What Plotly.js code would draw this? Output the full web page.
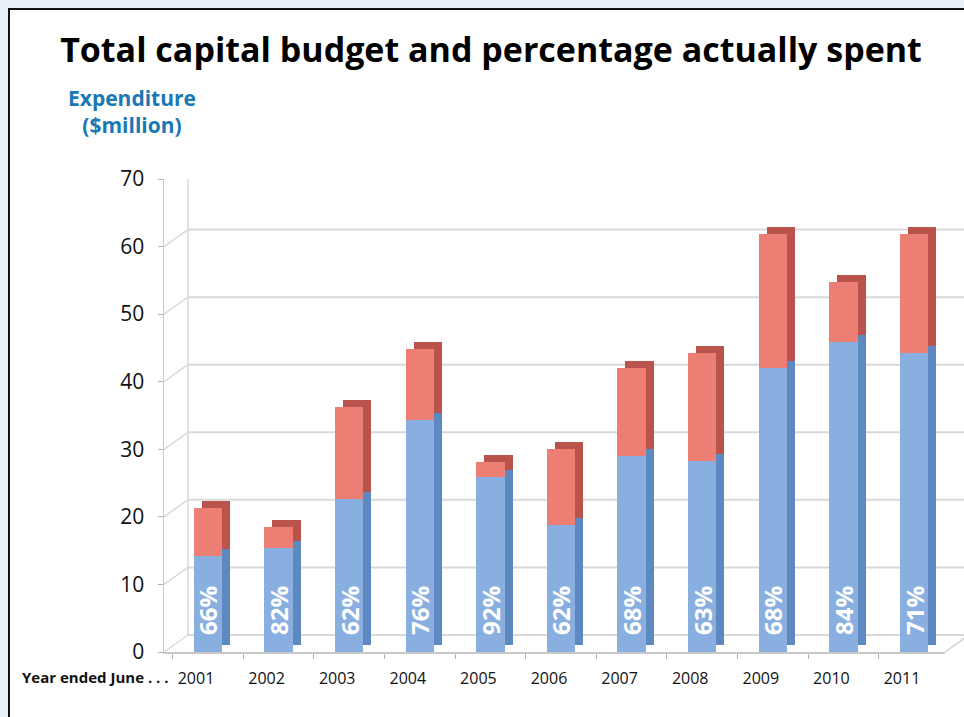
<!DOCTYPE html>
<html>
<head>
<meta charset="utf-8">
<script src="https://cdn.plot.ly/plotly-3.0.1.min.js"></script>
<style>html,body{margin:0;padding:0;background:#e9f0f8;}#chart{width:964px;height:717px;}</style>
</head>
<body>
<div id="chart"></div>
<script>
// ---- data ----
const years = ['2001','2002','2003','2004','2005','2006','2007','2008','2009','2010','2011'];
const budget = [21.3, 18.5, 36.2, 44.9, 28.1, 30.1, 42.1, 44.3, 61.9, 54.7, 61.9];
const spent  = [14.2, 15.4, 22.7, 34.3, 25.9, 18.8, 29.0, 28.2, 42.1, 45.9, 44.2];
const pctLabels = ['66%','82%','62%','76%','92%','62%','68%','63%','68%','84%','71%'];
const yTicks = [0, 10, 20, 30, 40, 50, 60, 70];

const unspent = budget.map((b, i) => +(b - spent[i]).toFixed(2));

const W = 964, H = 717;
const px = v => v / W, py = v => 1 - v / H;

// geometry (pixels)
const frontX = [164, 945], frontY = [652, 179];   // y: value 0 -> 652, 70 -> 179
const depthX = 8, depthY = 7;                       // bar side / top depth
const wallX = 24, wallY = 17;                       // back wall offset
const labelLift = 14;                               // label start above bar base
const wallShift = wallY * 70 / (frontY[0] - frontY[1]);  // in value units
const xr = [-0.623, 10.439];

const fontMain = 'Open Sans, Noto Sans, sans-serif';
const gridCol = '#d9d9d9';

const traces = [
  // shadow (side/top faces) on x2/y2
  {type:'bar', x: years, y: spent, xaxis:'x2', yaxis:'y2', width:0.4,
   marker:{color:'#5d88c0', line:{width:0}}, hoverinfo:'skip', showlegend:false},
  {type:'bar', x: years, y: unspent, xaxis:'x2', yaxis:'y2', width:0.4,
   marker:{color:'#bb534d', line:{width:0}}, hoverinfo:'skip', showlegend:false},
  // front faces on x3/y3
  {type:'bar', x: years, y: spent, xaxis:'x3', yaxis:'y3', width:0.4, name:'Spent',
   marker:{color:'#88afe0', line:{width:0}}, showlegend:false},
  {type:'bar', x: years, y: unspent, xaxis:'x3', yaxis:'y3', width:0.4, name:'Unspent',
   marker:{color:'#ec7e74', line:{width:0}}, showlegend:false},
  // percentage labels (transparent carrier bars on x4/y4)
  {type:'bar', x: years, y: spent, xaxis:'x4', yaxis:'y4', width:0.75,
   marker:{color:'rgba(0,0,0,0)', line:{width:0}}, hoverinfo:'skip', showlegend:false,
   text: pctLabels, textposition:'inside', insidetextanchor:'start', textangle:-90,
   constraintext:'none', cliponaxis:false,
   textfont:{family:fontMain, size:24, color:'#ffffff', weight:'bold'}}
];

const shapes = [
  // page frame
  {type:'rect', xref:'paper', yref:'paper', x0:px(9), x1:1.2, y0:-0.2, y1:py(9),
   fillcolor:'#ffffff', line:{color:'#111111', width:2}, layer:'below'}
];
yTicks.forEach(v => {
  shapes.push({type:'line', xref:'paper', yref:'y3', x0:px(frontX[0] + wallX), x1:1.05,
    y0:v + wallShift, y1:v + wallShift, line:{color:gridCol, width:2}, layer:'below'});
  shapes.push({type:'line', xref:'paper', yref:'y3', x0:px(frontX[0]), x1:px(frontX[0] + wallX),
    y0:v, y1:v + wallShift, line:{color:gridCol, width:1.5}, layer:'below'});
});
shapes.push({type:'line', xref:'paper', yref:'y3', x0:px(frontX[0] + wallX), x1:px(frontX[0] + wallX),
  y0:wallShift, y1:yTicks[yTicks.length - 1] + wallShift, line:{color:gridCol, width:1.5}, layer:'below'});
shapes.push({type:'line', xref:'paper', yref:'y3', x0:px(frontX[1]), x1:px(frontX[1] + wallX),
  y0:0, y1:wallShift, line:{color:'#d0d0d0', width:1.5}, layer:'below'});

const layout = {
  width: W, height: H,
  margin:{l:0, r:0, t:0, b:0},
  paper_bgcolor:'#e9f0f8', plot_bgcolor:'rgba(0,0,0,0)',
  font:{family:fontMain, color:'#111111'},
  showlegend:false,
  barmode:'stack', bargap:0,
  title:{text:'Total capital budget and percentage actually spent',
    font:{family:fontMain, size:34, color:'#000000', weight:'bold'},
    x:px(491), xanchor:'center', xref:'paper', y:py(50), yanchor:'middle', yref:'paper'},
  xaxis2:{domain:[px(frontX[0] + depthX), px(frontX[1] + depthX)], range:xr, type:'category',
    visible:false, anchor:'y2', fixedrange:true},
  yaxis2:{domain:[py(frontY[0] - depthY), py(frontY[1] - depthY)], range:[0,70],
    visible:false, anchor:'x2', fixedrange:true},
  xaxis3:{domain:[px(frontX[0]), px(frontX[1])], range:xr, type:'category', anchor:'y3',
    showline:true, linecolor:'#c8c8c8', linewidth:1.5,
    ticks:'outside', tickson:'boundaries', ticklen:5, tickcolor:'#b0b0b0',
    ticklabelshift:-12, ticklabelstandoff:11,
    tickfont:{family:fontMain, size:16, color:'#111111'}, showgrid:false, zeroline:false, fixedrange:true},
  yaxis3:{domain:[py(frontY[0]), py(frontY[1])], range:[0,70], anchor:'x3',
    tickvals:yTicks, showgrid:false, zeroline:false,
    showline:true, linecolor:'#c8c8c8', linewidth:1.5,
    ticks:'outside', ticklen:5, tickcolor:'#b0b0b0', ticklabelstandoff:9,
    tickfont:{family:fontMain, size:21, color:'#111111'}, fixedrange:true},
  xaxis4:{domain:[px(frontX[0]), px(frontX[1])], range:xr, type:'category',
    visible:false, anchor:'y4', fixedrange:true},
  yaxis4:{domain:[py(frontY[0] - labelLift), py(frontY[1] - labelLift)], range:[0,70],
    visible:false, anchor:'x4', fixedrange:true},
  shapes: shapes,
  annotations:[
    {text:'Expenditure<br>($million)', xref:'paper', yref:'paper', x:px(132), y:py(112),
     xanchor:'center', yanchor:'middle', showarrow:false, align:'center',
     font:{family:fontMain, size:21, color:'#1a78b4', weight:'bold'}},
    {text:'Year ended June . . .', xref:'paper', yref:'paper', x:px(20), y:py(677),
     xanchor:'left', yanchor:'middle', showarrow:false,
     font:{family:fontMain, size:15, color:'#111111', weight:'bold'}}
  ]
};

Plotly.newPlot('chart', traces, layout, {displayModeBar:false, staticPlot:true});
</script>
</body>
</html>
